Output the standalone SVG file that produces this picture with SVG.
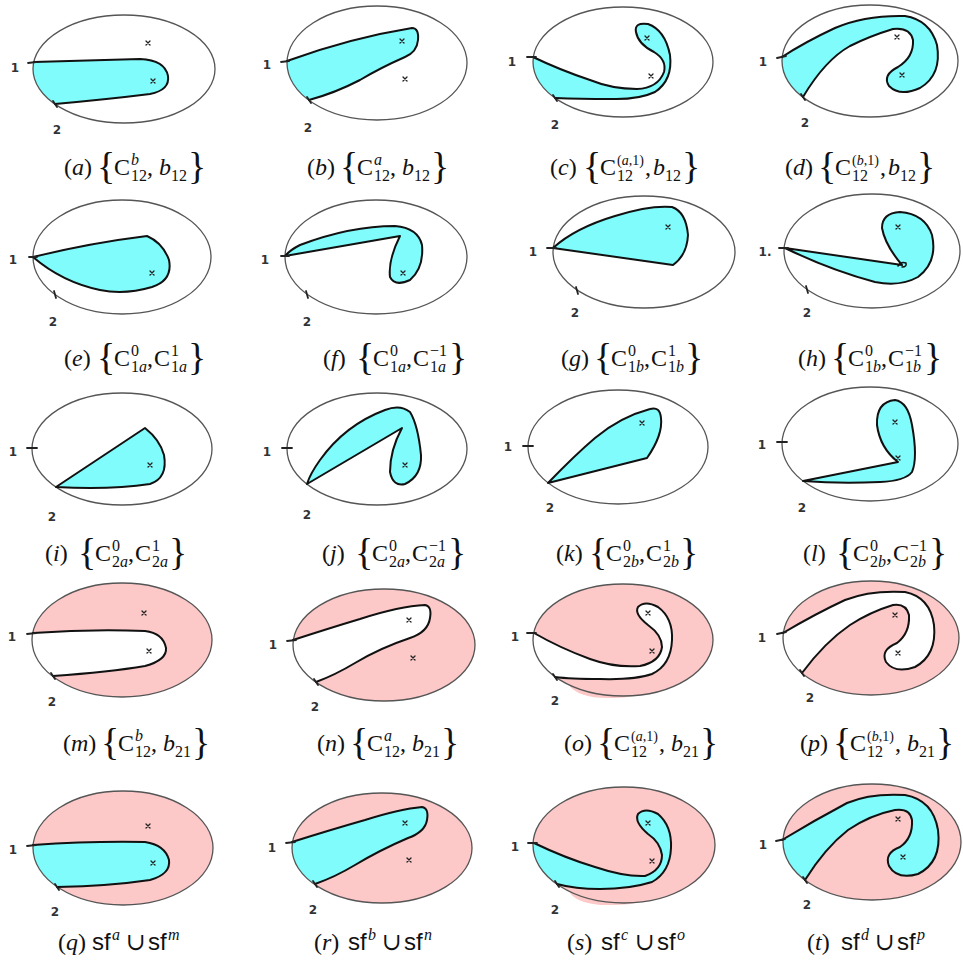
<svg xmlns="http://www.w3.org/2000/svg" xmlns:xlink="http://www.w3.org/1999/xlink" width="963" height="975" viewBox="0 0 963 975">
<style>
.bg{fill:#fff}
.ell{fill:none;stroke:#555;stroke-width:1.3}
.pk{fill:#fcc8c8}
.cy{fill:#80fcfc}
.wh{fill:#fff}
.edge{fill:none;stroke:#111;stroke-width:2;stroke-linejoin:round;stroke-linecap:round}
.cye{fill:#80fcfc;stroke:#111;stroke-width:2;stroke-linejoin:round;stroke-linecap:round}
.tk{stroke:#222;stroke-width:1.8;stroke-linecap:round}
.xm{fill:none;stroke:#222;stroke-width:1.3;stroke-linecap:round}
.num{font-family:"DejaVu Sans",sans-serif;font-size:12px;font-weight:bold;fill:#333;text-anchor:middle}
.lab{font-family:"Liberation Serif","DejaVu Serif",serif;font-size:24px;fill:#111}
.it{font-style:italic}
.br{font-size:38px}
.s{font-size:16px}
.s2{font-size:14px}
.sf{font-family:"Liberation Sans",Arial,sans-serif}
</style>
<defs>
<path id="xm" class="xm" d="M-2,-2 L2,2 M2,-2 L-2,2"/>
<clipPath id="ca"><ellipse cx="124" cy="69" rx="91" ry="54"/></clipPath>
<clipPath id="cb"><ellipse cx="377" cy="63" rx="90" ry="57"/></clipPath>
<clipPath id="cc"><ellipse cx="623" cy="62" rx="90" ry="55"/></clipPath>
<clipPath id="cd"><ellipse cx="870" cy="61" rx="88" ry="56"/></clipPath>
<clipPath id="cm"><ellipse cx="122" cy="640" rx="90" ry="57"/></clipPath>
<clipPath id="cn"><ellipse cx="384" cy="645" rx="91" ry="56"/></clipPath>
<clipPath id="co"><ellipse cx="623" cy="640" rx="90" ry="56"/></clipPath>
<clipPath id="cp"><ellipse cx="871" cy="638" rx="88" ry="57"/></clipPath>
<clipPath id="cq"><ellipse cx="123" cy="848" rx="90" ry="57"/></clipPath>
<clipPath id="cr"><ellipse cx="382" cy="848" rx="90" ry="55"/></clipPath>
<clipPath id="cs"><ellipse cx="624" cy="845" rx="91" ry="58"/></clipPath>
<clipPath id="ct"><ellipse cx="872" cy="842" rx="89" ry="58"/></clipPath>
</defs>
<rect class="bg" x="0" y="0" width="963" height="975"/>

<!-- Row 1 -->
<g id="panel-a">
<path class="cy" clip-path="url(#ca)" d="M34,62 L140,59 Q165,60 168,76 Q170,90 150,94 Q110,99 55,104 L20,112 L10,112 L10,55 Z"/>
<ellipse class="ell" cx="124" cy="69" rx="91" ry="54"/>
<path class="edge" d="M34,62 L140,59 Q165,60 168,76 Q170,90 150,94 Q110,99 55,104"/>
<line class="tk" x1="28" y1="63" x2="36" y2="62"/><line class="tk" x1="53" y1="101" x2="57" y2="107"/>
<use href="#xm" x="148" y="43"/><use href="#xm" x="153" y="81"/>
<text class="num" x="15" y="72">1</text><text class="num" x="57" y="134">2</text>
<g class="lab" transform="translate(64,175)">
<text x="0">(<tspan class="it">a</tspan>)</text><text x="33" y="4" class="br">{</text><text x="50">C</text>
<text x="67" y="-10" class="s it">b</text><text x="67" y="6" class="s">12</text><text x="83">,</text>
<text x="95" class="it">b</text><text x="107" y="6" class="s">12</text><text x="124" y="4" class="br">}</text>
</g>
</g>

<g id="panel-b">
<path class="cy" clip-path="url(#cb)" d="M287,61 Q350,38 412,28 Q419,28 418,40 Q417,52 405,57 Q380,68 360,80 Q335,93 309,100 L295,112 L270,112 L270,55 Z"/>
<ellipse class="ell" cx="377" cy="63" rx="90" ry="57"/>
<path class="edge" d="M287,61 Q350,38 412,28 Q419,28 418,40 Q417,52 405,57 Q380,68 360,80 Q335,93 309,100"/>
<line class="tk" x1="281" y1="62" x2="289" y2="61"/><line class="tk" x1="307" y1="97" x2="311" y2="103"/>
<use href="#xm" x="402" y="41"/><use href="#xm" x="405" y="79"/>
<text class="num" x="267" y="69">1</text><text class="num" x="308" y="132">2</text>
<g class="lab" transform="translate(307,175)">
<text x="0">(<tspan class="it">b</tspan>)</text><text x="33" y="4" class="br">{</text><text x="50">C</text>
<text x="67" y="-10" class="s it">a</text><text x="67" y="6" class="s">12</text><text x="83">,</text>
<text x="95" class="it">b</text><text x="107" y="6" class="s">12</text><text x="124" y="4" class="br">}</text>
</g>
</g>

<g id="panel-c">
<path class="cy" clip-path="url(#cc)" d="M533,57 Q560,70 590,80 Q612,89 637,89 Q658,88 664,72 Q667,60 654,52 Q638,44 636,32 Q634,22 648,24 Q665,30 670,55 Q673,80 655,92 Q638,100 610,99 Q580,99 555,98 L540,112 L520,112 L520,50 Z"/>
<ellipse class="ell" cx="623" cy="62" rx="90" ry="55"/>
<path class="edge" d="M533,57 Q560,70 590,80 Q612,89 637,89 Q658,88 664,72 Q667,60 654,52 Q638,44 636,32 Q634,22 648,24 Q665,30 670,55 Q673,80 655,92 Q638,100 610,99 Q580,99 555,98"/>
<line class="tk" x1="527" y1="57" x2="536" y2="57"/><line class="tk" x1="553" y1="95" x2="557" y2="101"/>
<use href="#xm" x="647" y="38"/><use href="#xm" x="651" y="76"/>
<text class="num" x="512" y="66">1</text><text class="num" x="555" y="129">2</text>
<g class="lab" transform="translate(550,175)">
<text x="0">(<tspan class="it">c</tspan>)</text><text x="33" y="4" class="br">{</text><text x="50">C</text>
<text x="67" y="-10" class="s2">(<tspan class="it">a</tspan>,1)</text><text x="67" y="6" class="s">12</text><text x="95">,</text>
<text x="103" class="it">b</text><text x="115" y="6" class="s">12</text><text x="132" y="4" class="br">}</text>
</g>
</g>

<g id="panel-d">
<path class="cy" clip-path="url(#cd)" d="M782,57 Q805,42 835,28 Q865,15 905,16 Q930,20 937,45 Q942,75 920,88 Q900,97 889,86 Q882,75 898,67 Q914,57 913,40 Q910,27 893,29 Q870,36 850,46 Q825,60 803,97 L790,112 L770,112 L770,50 Z"/>
<ellipse class="ell" cx="870" cy="61" rx="88" ry="56"/>
<path class="edge" d="M782,57 Q805,42 835,28 Q865,15 905,16 Q930,20 937,45 Q942,75 920,88 Q900,97 889,86 Q882,75 898,67 Q914,57 913,40 Q910,27 893,29 Q870,36 850,46 Q825,60 803,97"/>
<line class="tk" x1="777" y1="58" x2="786" y2="56"/><line class="tk" x1="801" y1="94" x2="805" y2="100"/>
<use href="#xm" x="897" y="37"/><use href="#xm" x="902" y="75"/>
<text class="num" x="763" y="66">1</text><text class="num" x="805" y="127">2</text>
<g class="lab" transform="translate(785,175)">
<text x="0">(<tspan class="it">d</tspan>)</text><text x="33" y="4" class="br">{</text><text x="50">C</text>
<text x="67" y="-10" class="s2">(<tspan class="it">b</tspan>,1)</text><text x="67" y="6" class="s">12</text><text x="95">,</text>
<text x="103" class="it">b</text><text x="115" y="6" class="s">12</text><text x="132" y="4" class="br">}</text>
</g>
</g>

<!-- Row 2 -->
<g id="panel-e">
<ellipse class="ell" cx="122" cy="257" rx="89" ry="57"/>
<path class="cye" d="M33,257 Q90,243 147,236 Q163,243 169,260 Q173,280 152,287 Q125,295 100,290 Q62,282 33,257 Z"/>
<line class="tk" x1="29" y1="257" x2="37" y2="257"/><line class="tk" x1="54" y1="291" x2="56" y2="298"/>
<use href="#xm" x="152" y="273"/>
<text class="num" x="13" y="264">1</text><text class="num" x="53" y="326">2</text>
<g class="lab" transform="translate(64,366)">
<text x="0">(<tspan class="it">e</tspan>)</text><text x="33" y="4" class="br">{</text><text x="50">C</text>
<text x="67" y="-10" class="s">0</text><text x="67" y="6" class="s">1<tspan class="it">a</tspan></text><text x="83">,</text>
<text x="90">C</text><text x="107" y="-10" class="s">1</text><text x="107" y="6" class="s">1<tspan class="it">a</tspan></text>
<text x="124" y="4" class="br">}</text>
</g>
</g>

<g id="panel-f">
<ellipse class="ell" cx="376" cy="257" rx="91" ry="57"/>
<path class="cye" d="M285,256 L400,236 Q388,260 390,277 Q395,287 410,280 Q424,268 422,245 Q418,228 395,226 Q350,226 300,245 Q290,250 285,256 Z"/>
<line class="tk" x1="281" y1="256" x2="289" y2="256"/><line class="tk" x1="306" y1="291" x2="308" y2="298"/>
<use href="#xm" x="403" y="273"/>
<text class="num" x="265" y="264">1</text><text class="num" x="307" y="326">2</text>
<g class="lab" transform="translate(323,366)">
<text x="0">(<tspan class="it">f</tspan>)</text><text x="33" y="4" class="br">{</text><text x="50">C</text>
<text x="67" y="-10" class="s">0</text><text x="67" y="6" class="s">1<tspan class="it">a</tspan></text><text x="83">,</text>
<text x="90">C</text><text x="107" y="-10" class="s">−1</text><text x="107" y="6" class="s">1<tspan class="it">a</tspan></text>
<text x="126" y="4" class="br">}</text>
</g>
</g>

<g id="panel-g">
<ellipse class="ell" cx="644" cy="252" rx="91" ry="56"/>
<path class="cye" d="M553,248 Q575,228 615,216 Q650,205 672,207 Q686,212 688,235 Q687,255 673,265 Z"/>
<line class="tk" x1="547" y1="248" x2="556" y2="248"/><line class="tk" x1="576" y1="287" x2="578" y2="294"/>
<use href="#xm" x="668" y="227"/>
<text class="num" x="533" y="256">1</text><text class="num" x="575" y="317">2</text>
<g class="lab" transform="translate(561,366)">
<text x="0">(<tspan class="it">g</tspan>)</text><text x="33" y="4" class="br">{</text><text x="50">C</text>
<text x="67" y="-10" class="s">0</text><text x="67" y="6" class="s">1<tspan class="it">b</tspan></text><text x="83">,</text>
<text x="90">C</text><text x="107" y="-10" class="s">1</text><text x="107" y="6" class="s">1<tspan class="it">b</tspan></text>
<text x="124" y="4" class="br">}</text>
</g>
</g>

<g id="panel-h">
<ellipse class="ell" cx="872" cy="251" rx="88" ry="57"/>
<path class="cye" d="M785,248 L902,265 Q885,245 882,228 Q882,213 900,212 Q925,214 932,235 Q938,262 918,277 Q900,287 875,282 Q830,270 785,248 Z"/>
<path class="edge" style="stroke-width:1.5" d="M898,266 Q901,261 906,263 Q907,267 902,267"/>
<line class="tk" x1="779" y1="248" x2="788" y2="248"/><line class="tk" x1="806" y1="286" x2="808" y2="293"/>
<use href="#xm" x="898" y="227"/>
<text class="num" x="765" y="256">1.</text><text class="num" x="807" y="317">2</text>
<g class="lab" transform="translate(798,366)">
<text x="0">(<tspan class="it">h</tspan>)</text><text x="33" y="4" class="br">{</text><text x="50">C</text>
<text x="67" y="-10" class="s">0</text><text x="67" y="6" class="s">1<tspan class="it">b</tspan></text><text x="83">,</text>
<text x="90">C</text><text x="107" y="-10" class="s">−1</text><text x="107" y="6" class="s">1<tspan class="it">b</tspan></text>
<text x="126" y="4" class="br">}</text>
</g>
</g>

<!-- Row 3 -->
<g id="panel-i">
<ellipse class="ell" cx="122" cy="449" rx="90" ry="56"/>
<path class="cye" d="M56,487 L145,428 Q160,440 164,455 Q168,478 150,484 Q110,490 56,487 Z"/>
<line class="tk" x1="27" y1="448" x2="37" y2="448"/>
<use href="#xm" x="150" y="465"/>
<text class="num" x="13" y="456">1</text><text class="num" x="52" y="521">2</text>
<g class="lab" transform="translate(45,561)">
<text x="0">(<tspan class="it">i</tspan>)</text><text x="33" y="4" class="br">{</text><text x="50">C</text>
<text x="67" y="-10" class="s">0</text><text x="67" y="6" class="s">2<tspan class="it">a</tspan></text><text x="83">,</text>
<text x="90">C</text><text x="107" y="-10" class="s">1</text><text x="107" y="6" class="s">2<tspan class="it">a</tspan></text>
<text x="124" y="4" class="br">}</text>
</g>
</g>

<g id="panel-j">
<ellipse class="ell" cx="377" cy="449" rx="90" ry="56"/>
<path class="cye" d="M307,484 L402,428 Q390,450 390,472 Q393,487 405,484 Q422,476 421,455 Q418,425 410,412 Q400,404 385,410 Q345,425 320,460 Q310,474 307,484 Z"/>
<line class="tk" x1="282" y1="448" x2="292" y2="448"/>
<use href="#xm" x="405" y="465"/>
<text class="num" x="267" y="456">1</text><text class="num" x="307" y="519">2</text>
<g class="lab" transform="translate(322,561)">
<text x="0">(<tspan class="it">j</tspan>)</text><text x="33" y="4" class="br">{</text><text x="50">C</text>
<text x="67" y="-10" class="s">0</text><text x="67" y="6" class="s">2<tspan class="it">a</tspan></text><text x="83">,</text>
<text x="90">C</text><text x="107" y="-10" class="s">−1</text><text x="107" y="6" class="s">2<tspan class="it">a</tspan></text>
<text x="126" y="4" class="br">}</text>
</g>
</g>

<g id="panel-k">
<ellipse class="ell" cx="618" cy="447" rx="90" ry="57"/>
<path class="cye" d="M548,483 Q575,455 595,438 Q620,417 650,409 Q660,406 661,418 Q663,435 647,458 Z"/>
<line class="tk" x1="523" y1="446" x2="533" y2="446"/>
<use href="#xm" x="642" y="423"/>
<text class="num" x="508" y="451">1</text><text class="num" x="550" y="512">2</text>
<g class="lab" transform="translate(556,561)">
<text x="0">(<tspan class="it">k</tspan>)</text><text x="33" y="4" class="br">{</text><text x="50">C</text>
<text x="67" y="-10" class="s">0</text><text x="67" y="6" class="s">2<tspan class="it">b</tspan></text><text x="83">,</text>
<text x="90">C</text><text x="107" y="-10" class="s">1</text><text x="107" y="6" class="s">2<tspan class="it">b</tspan></text>
<text x="124" y="4" class="br">}</text>
</g>
</g>

<g id="panel-l">
<ellipse class="ell" cx="870" cy="444" rx="88" ry="57"/>
<path class="cye" d="M803,481 L898,462 Q880,448 877,425 Q876,402 895,400 Q908,402 912,425 Q918,458 912,472 Q905,481 880,482 Q840,484 803,481 Z"/>
<line class="tk" x1="777" y1="442" x2="787" y2="442"/>
<use href="#xm" x="895" y="422"/><use href="#xm" x="898" y="458"/>
<text class="num" x="762" y="449">1</text><text class="num" x="802" y="512">2</text>
<g class="lab" transform="translate(803,561)">
<text x="0">(<tspan class="it">l</tspan>)</text><text x="33" y="4" class="br">{</text><text x="50">C</text>
<text x="67" y="-10" class="s">0</text><text x="67" y="6" class="s">2<tspan class="it">b</tspan></text><text x="83">,</text>
<text x="90">C</text><text x="107" y="-10" class="s">−1</text><text x="107" y="6" class="s">2<tspan class="it">b</tspan></text>
<text x="126" y="4" class="br">}</text>
</g>
</g>

<!-- Row 4 -->
<g id="panel-m">
<ellipse class="pk" cx="122" cy="640" rx="90" ry="57"/>
<path class="wh" clip-path="url(#cm)" d="M33,633 Q90,629 145,631 Q163,633 166,648 Q167,660 145,666 Q110,672 53,676 L40,690 L20,690 L20,625 Z"/>
<ellipse class="ell" cx="122" cy="640" rx="90" ry="57"/>
<path class="edge" d="M33,633 Q90,629 145,631 Q163,633 166,648 Q167,660 145,666 Q110,672 53,676"/>
<line class="tk" x1="27" y1="634" x2="36" y2="633"/><line class="tk" x1="51" y1="673" x2="55" y2="679"/>
<use href="#xm" x="144" y="613"/><use href="#xm" x="149" y="651"/>
<text class="num" x="12" y="641">1</text><text class="num" x="52" y="706">2</text>
<g class="lab" transform="translate(63,751)">
<text x="0">(<tspan class="it">m</tspan>)</text><text x="38" y="4" class="br">{</text><text x="55">C</text>
<text x="72" y="-10" class="s it">b</text><text x="72" y="6" class="s">12</text><text x="88">,</text>
<text x="100" class="it">b</text><text x="112" y="6" class="s">21</text><text x="129" y="4" class="br">}</text>
</g>
</g>

<g id="panel-n">
<ellipse class="pk" cx="384" cy="645" rx="91" ry="56"/>
<path class="wh" clip-path="url(#cn)" d="M293,640 Q330,628 360,619 Q400,606 425,605 Q432,606 430,618 Q428,632 410,638 Q380,648 355,663 Q335,675 316,682 L300,700 L270,700 L270,630 Z"/>
<ellipse class="ell" cx="384" cy="645" rx="91" ry="56"/>
<path class="edge" d="M293,640 Q330,628 360,619 Q400,606 425,605 Q432,606 430,618 Q428,632 410,638 Q380,648 355,663 Q335,675 316,682"/>
<line class="tk" x1="287" y1="641" x2="296" y2="640"/><line class="tk" x1="314" y1="679" x2="318" y2="685"/>
<use href="#xm" x="409" y="620"/><use href="#xm" x="413" y="658"/>
<text class="num" x="273" y="649">1</text><text class="num" x="315" y="711">2</text>
<g class="lab" transform="translate(317,751)">
<text x="0">(<tspan class="it">n</tspan>)</text><text x="33" y="4" class="br">{</text><text x="50">C</text>
<text x="67" y="-10" class="s it">a</text><text x="67" y="6" class="s">12</text><text x="83">,</text>
<text x="95" class="it">b</text><text x="107" y="6" class="s">21</text><text x="124" y="4" class="br">}</text>
</g>
</g>

<g id="panel-o">
<path class="pk" d="M568,684 Q578,699 612,698 Q628,698 636,695 L636,690 L568,680 Z"/>
<ellipse class="pk" cx="623" cy="640" rx="90" ry="56"/>
<path class="wh" clip-path="url(#co)" d="M534,633 Q560,648 590,659 Q615,668 640,666 Q660,662 662,647 Q662,635 648,625 Q634,614 638,607 Q645,600 658,607 Q673,618 672,640 Q671,665 652,674 Q635,680 600,679 Q570,679 555,677 L540,692 L520,692 L520,625 Z"/>
<ellipse class="ell" cx="623" cy="640" rx="90" ry="56"/>
<path class="edge" d="M534,633 Q560,648 590,659 Q615,668 640,666 Q660,662 662,647 Q662,635 648,625 Q634,614 638,607 Q645,600 658,607 Q673,618 672,640 Q671,665 652,674 Q635,680 600,679 Q570,679 555,677"/>
<line class="tk" x1="527" y1="633" x2="536" y2="633"/><line class="tk" x1="553" y1="674" x2="557" y2="680"/>
<use href="#xm" x="648" y="613"/><use href="#xm" x="652" y="651"/>
<text class="num" x="515" y="641">1</text><text class="num" x="555" y="705">2</text>
<g class="lab" transform="translate(564,751)">
<text x="0">(<tspan class="it">o</tspan>)</text><text x="33" y="4" class="br">{</text><text x="50">C</text>
<text x="67" y="-10" class="s2">(<tspan class="it">a</tspan>,1)</text><text x="67" y="6" class="s">12</text><text x="95">,</text>
<text x="107" class="it">b</text><text x="119" y="6" class="s">21</text><text x="136" y="4" class="br">}</text>
</g>
</g>

<g id="panel-p">
<ellipse class="pk" cx="871" cy="638" rx="88" ry="57"/>
<path class="wh" clip-path="url(#cp)" d="M783,633 Q815,614 845,600 Q870,590 905,592 Q930,597 934,625 Q937,655 915,667 Q895,674 886,662 Q880,650 897,643 Q910,633 909,615 Q906,603 893,605 Q870,612 850,625 Q825,642 802,673 L785,695 L765,695 L765,625 Z"/>
<ellipse class="ell" cx="871" cy="638" rx="88" ry="57"/>
<path class="edge" d="M783,633 Q815,614 845,600 Q870,590 905,592 Q930,597 934,625 Q937,655 915,667 Q895,674 886,662 Q880,650 897,643 Q910,633 909,615 Q906,603 893,605 Q870,612 850,625 Q825,642 802,673"/>
<line class="tk" x1="777" y1="634" x2="786" y2="632"/><line class="tk" x1="800" y1="670" x2="804" y2="676"/>
<use href="#xm" x="895" y="615"/><use href="#xm" x="898" y="653"/>
<text class="num" x="762" y="642">1</text><text class="num" x="810" y="702">2</text>
<g class="lab" transform="translate(800,751)">
<text x="0">(<tspan class="it">p</tspan>)</text><text x="33" y="4" class="br">{</text><text x="50">C</text>
<text x="67" y="-10" class="s2">(<tspan class="it">b</tspan>,1)</text><text x="67" y="6" class="s">12</text><text x="95">,</text>
<text x="107" class="it">b</text><text x="119" y="6" class="s">21</text><text x="136" y="4" class="br">}</text>
</g>
</g>

<!-- Row 5 -->
<g id="panel-q">
<ellipse class="pk" cx="123" cy="848" rx="90" ry="57"/>
<path class="cy" clip-path="url(#cq)" d="M33,845 Q90,841 145,842 Q165,845 169,860 Q171,874 150,880 Q110,886 57,887 L40,900 L20,900 L20,835 Z"/>
<ellipse class="ell" cx="123" cy="848" rx="90" ry="57"/>
<path class="edge" d="M33,845 Q90,841 145,842 Q165,845 169,860 Q171,874 150,880 Q110,886 57,887"/>
<line class="tk" x1="27" y1="846" x2="36" y2="845"/><line class="tk" x1="55" y1="884" x2="59" y2="890"/>
<use href="#xm" x="148" y="826"/><use href="#xm" x="153" y="863"/>
<text class="num" x="13" y="854">1</text><text class="num" x="55" y="916">2</text>
<g class="lab" transform="translate(58,950)">
<text x="0">(<tspan class="it">q</tspan>)</text><text x="34" class="sf">sf</text><text x="54" y="-10" class="s it">a</text>
<text x="68">∪</text><text x="90" class="sf">sf</text><text x="110" y="-10" class="s it">m</text>
</g>
</g>

<g id="panel-r">
<ellipse class="pk" cx="382" cy="848" rx="90" ry="55"/>
<path class="cy" clip-path="url(#cr)" d="M292,842 Q330,830 365,820 Q400,809 422,807 Q429,808 427,820 Q425,832 408,838 Q380,850 355,865 Q335,877 315,884 L300,900 L275,900 L275,835 Z"/>
<ellipse class="ell" cx="382" cy="848" rx="90" ry="55"/>
<path class="edge" d="M292,842 Q330,830 365,820 Q400,809 422,807 Q429,808 427,820 Q425,832 408,838 Q380,850 355,865 Q335,877 315,884"/>
<line class="tk" x1="286" y1="843" x2="295" y2="842"/><line class="tk" x1="313" y1="881" x2="317" y2="887"/>
<use href="#xm" x="405" y="823"/><use href="#xm" x="409" y="860"/>
<text class="num" x="272" y="852">1</text><text class="num" x="313" y="914">2</text>
<g class="lab" transform="translate(314,950)">
<text x="0">(<tspan class="it">r</tspan>)</text><text x="34" class="sf">sf</text><text x="54" y="-10" class="s it">b</text>
<text x="68">∪</text><text x="90" class="sf">sf</text><text x="110" y="-10" class="s it">n</text>
</g>
</g>

<g id="panel-s">
<path class="pk" d="M570,893 Q580,906 612,905 Q630,905 640,902 L640,896 L570,889 Z"/>
<ellipse class="pk" cx="624" cy="845" rx="91" ry="58"/>
<path class="cy" clip-path="url(#cs)" d="M534,843 Q565,858 595,867 Q625,877 645,876 Q662,870 662,855 Q660,842 648,834 Q634,822 638,814 Q645,807 658,814 Q672,826 671,848 Q670,872 652,882 Q630,889 600,889 Q575,889 557,884 L540,900 L520,900 L520,835 Z"/>
<ellipse class="ell" cx="624" cy="845" rx="91" ry="58"/>
<path class="edge" d="M534,843 Q565,858 595,867 Q625,877 645,876 Q662,870 662,855 Q660,842 648,834 Q634,822 638,814 Q645,807 658,814 Q672,826 671,848 Q670,872 652,882 Q630,889 600,889 Q575,889 557,884"/>
<line class="tk" x1="528" y1="843" x2="537" y2="843"/><line class="tk" x1="555" y1="881" x2="559" y2="887"/>
<use href="#xm" x="648" y="823"/><use href="#xm" x="652" y="861"/>
<text class="num" x="515" y="851">1</text><text class="num" x="555" y="914">2</text>
<g class="lab" transform="translate(567,950)">
<text x="0">(<tspan class="it">s</tspan>)</text><text x="34" class="sf">sf</text><text x="54" y="-10" class="s it">c</text>
<text x="68">∪</text><text x="90" class="sf">sf</text><text x="110" y="-10" class="s it">o</text>
</g>
</g>

<g id="panel-t">
<ellipse class="pk" cx="872" cy="842" rx="89" ry="58"/>
<path class="cy" clip-path="url(#ct)" d="M782,840 Q815,820 847,803 Q870,793 905,795 Q933,800 938,830 Q942,862 918,874 Q897,880 889,866 Q884,853 900,847 Q913,838 912,820 Q910,808 895,810 Q870,815 848,830 Q825,848 805,880 L790,900 L765,900 L765,830 Z"/>
<ellipse class="ell" cx="872" cy="842" rx="89" ry="58"/>
<path class="edge" d="M782,840 Q815,820 847,803 Q870,793 905,795 Q933,800 938,830 Q942,862 918,874 Q897,880 889,866 Q884,853 900,847 Q913,838 912,820 Q910,808 895,810 Q870,815 848,830 Q825,848 805,880"/>
<line class="tk" x1="776" y1="841" x2="785" y2="839"/><line class="tk" x1="803" y1="877" x2="807" y2="883"/>
<use href="#xm" x="898" y="819"/><use href="#xm" x="903" y="857"/>
<text class="num" x="763" y="849">1</text><text class="num" x="807" y="909">2</text>
<g class="lab" transform="translate(807,950)">
<text x="0">(<tspan class="it">t</tspan>)</text><text x="34" class="sf">sf</text><text x="54" y="-10" class="s it">d</text>
<text x="68">∪</text><text x="90" class="sf">sf</text><text x="110" y="-10" class="s it">p</text>
</g>
</g>
</svg>
